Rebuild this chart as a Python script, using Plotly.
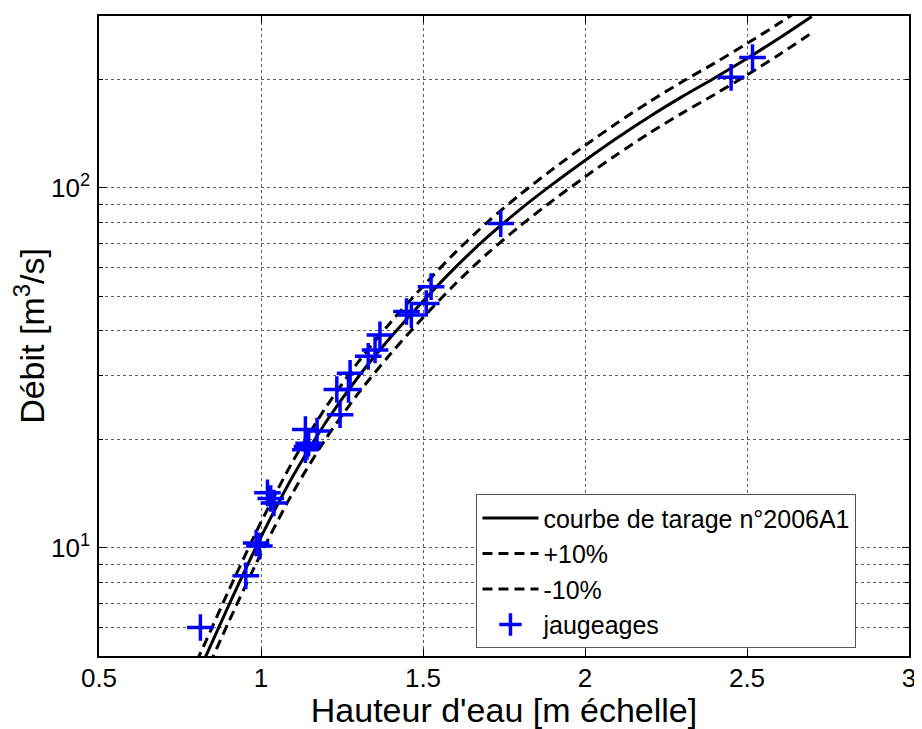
import numpy as np
import plotly.graph_objects as go

# Rating curve
h_curve = [0.78, 0.83, 0.90, 1.00, 1.10, 1.20, 1.30, 1.40, 1.50, 1.60, 1.70, 1.80,
           1.90, 2.00, 2.10, 2.20, 2.30, 2.40, 2.50, 2.60, 2.70]
q_curve = [4.0, 5.0, 6.9, 10.7, 15.9, 22.3, 29.8, 38.4, 48.4, 60.1, 73.1, 87.1,
           102.3, 119.1, 137.7, 157.8, 179.1, 201.8, 228.6, 260.6, 299.2]
band = 0.10  # +/-10 %

# Gaugings (jaugeages)
h_gauge = [0.813, 0.953, 0.985, 0.995, 1.020, 1.030, 1.040, 1.137, 1.173, 1.142,
           1.147, 1.137, 1.244, 1.234, 1.270, 1.275, 1.331, 1.352, 1.367, 1.449,
           1.464, 1.510, 1.525, 1.740, 2.451, 2.517]
q_gauge = [6.0, 8.35, 10.3, 10.1, 14.2, 13.7, 13.3, 21.3, 21.1, 19.1,
           19.5, 18.7, 23.4, 27.5, 27.5, 30.5, 34.0, 35.4, 39.0, 45.3,
           44.3, 47.7, 53.1, 79.5, 202.6, 230.0]

x_ticks = [0.5, 1, 1.5, 2, 2.5, 3]
y_major = [10, 100]
y_major_text = ["10<sup>1</sup>", "10<sup>2</sup>"]
y_minor = [5, 6, 7, 8, 9, 20, 30, 40, 50, 60, 70, 80, 90, 200, 300]

q_up = [q * (1 + band) for q in q_curve]
q_dn = [q * (1 - band) for q in q_curve]

FONT = "Liberation Sans, Arial, sans-serif"
DASH = "10px,6px"

fig = go.Figure()
fig.add_trace(go.Scatter(x=h_curve, y=q_curve, mode="lines",
                         name="courbe de tarage n°2006A1",
                         line=dict(color="black", width=3, shape="spline", smoothing=0.8)))
fig.add_trace(go.Scatter(x=h_curve, y=q_up, mode="lines", name="+10%",
                         line=dict(color="black", width=3, dash=DASH, shape="spline", smoothing=0.8)))
fig.add_trace(go.Scatter(x=h_curve, y=q_dn, mode="lines", name="-10%",
                         line=dict(color="black", width=3, dash=DASH, shape="spline", smoothing=0.8)))
fig.add_trace(go.Scatter(x=h_gauge, y=q_gauge, mode="markers", name="jaugeages",
                         marker=dict(symbol="cross-thin", size=19,
                                     line=dict(color="#0000ff", width=3.5), color="#0000ff")))

grid = dict(showgrid=True, gridcolor="#606060", griddash="dot", gridwidth=1)

# page has an 8px body margin: figure is sized so that it fills the 922x729 window
fig.update_layout(
    width=914, height=721,
    margin=dict(l=91, r=9, t=6, b=73),
    paper_bgcolor="white", plot_bgcolor="white",
    font=dict(family=FONT, size=26, color="black"),
    showlegend=True,
    legend=dict(x=0.466, y=0.012, xanchor="left", yanchor="bottom",
                bgcolor="white", bordercolor="#555555", borderwidth=1,
                font=dict(family=FONT, size=25, color="black"),
                tracegroupgap=0, itemwidth=56),
    xaxis=dict(range=[0.5, 3], tickvals=x_ticks, ticktext=[str(v) for v in x_ticks],
               ticks="inside", ticklen=7, tickcolor="black", mirror="ticks",
               showline=True, linecolor="black", linewidth=1.5, zeroline=False,
               title=dict(text="Hauteur d'eau [m échelle]", font=dict(size=34), standoff=0),
               ticklabelstandoff=-2,
               **grid),
    yaxis=dict(type="log", range=[np.log10(5), np.log10(300)],
               tickvals=y_major, ticktext=y_major_text,
               ticks="inside", ticklen=7, tickcolor="black", mirror="ticks",
               showline=True, linecolor="black", linewidth=1.5, zeroline=False,
               title=dict(text="Débit [m<sup>3</sup>/s]", font=dict(size=34), standoff=8),
               ticklabelstandoff=2,
               minor=dict(tickmode="array", tickvals=y_minor, ticks="inside", ticklen=4,
                          tickcolor="black", showgrid=True, gridcolor="#606060",
                          griddash="dot", gridwidth=1),
               **grid),
)

fig.write_html("out.html")
